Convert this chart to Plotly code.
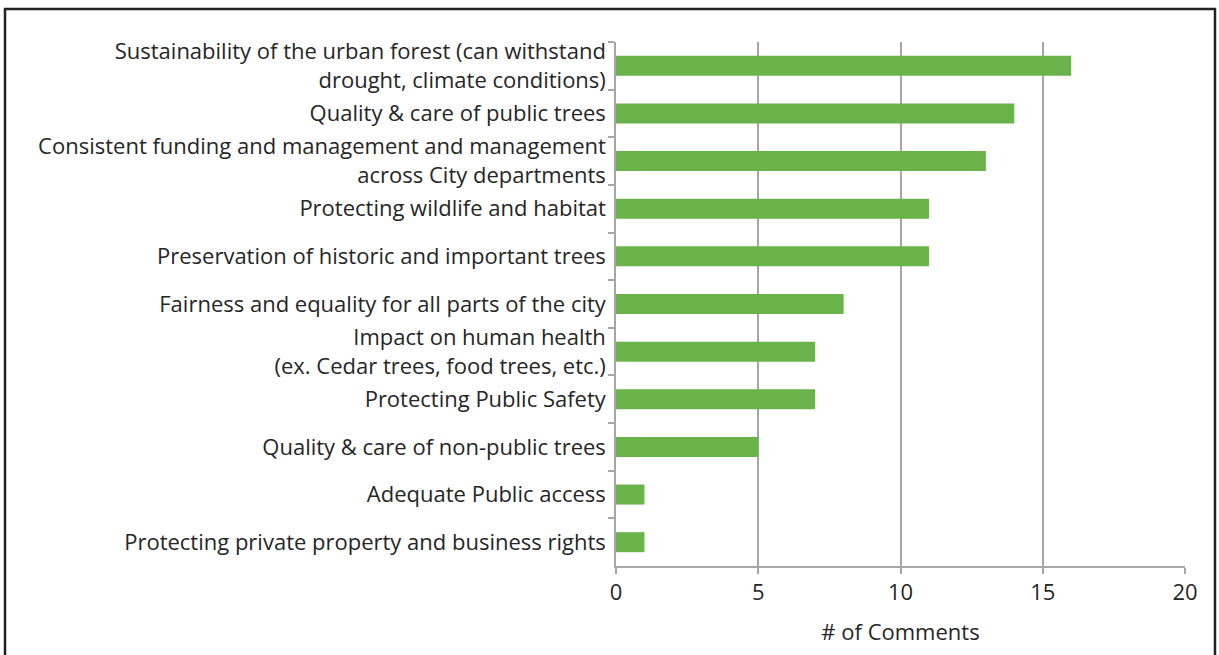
import plotly.graph_objects as go

categories = [
    "Sustainability of the urban forest (can withstand<br>drought, climate conditions)",
    "Quality & care of public trees",
    "Consistent funding and management and management<br>across City departments",
    "Protecting wildlife and habitat",
    "Preservation of historic and important trees",
    "Fairness and equality for all parts of the city",
    "Impact on human health<br>(ex. Cedar trees, food trees, etc.)",
    "Protecting Public Safety",
    "Quality & care of non-public trees",
    "Adequate Public access",
    "Protecting private property and business rights",
]
values = [16, 14, 13, 11, 11, 8, 7, 7, 5, 1, 1]
x_ticks = [0, 5, 10, 15, 20]

fig = go.Figure(go.Bar(
    x=values, y=categories, orientation="h",
    marker=dict(color="#6AB24A", line=dict(width=0)),
    width=0.42,
))

FONT = "Open Sans"
TXT = "#262626"
fig.update_layout(
    width=1219, height=655,
    margin=dict(l=616, r=34, t=42, b=89),
    paper_bgcolor="white", plot_bgcolor="white",
    showlegend=False,
    font=dict(family=FONT, color=TXT),
)
fig.update_xaxes(
    range=[0, 20], tickvals=x_ticks, ticktext=[str(v) for v in x_ticks],
    showgrid=True, gridcolor="#A6A6A6", gridwidth=1.5,
    showline=True, linecolor="#A6A6A6", linewidth=1.5,
    ticks="outside", ticklen=6, tickcolor="#A6A6A6", tickwidth=1.5,
    tickfont=dict(size=22, family=FONT, color=TXT),
    title=dict(text="# of Comments", font=dict(size=22, family=FONT, color=TXT), standoff=19),
    zeroline=False,
)
fig.update_yaxes(
    categoryorder="array", categoryarray=categories,
    range=[len(categories) - 0.5, -0.5], autorange=False,
    showline=True, linecolor="#A6A6A6", linewidth=1.5,
    ticks="outside", ticklen=6, tickcolor="#A6A6A6", tickwidth=1.5,
    tickson="boundaries", ticklabelstandoff=4,
    tickfont=dict(size=22, family=FONT, color=TXT),
    showgrid=False,
)
fig.add_shape(type="rect", xref="paper", yref="paper",
              x0=-1.0738, x1=1.0527, y0=-0.2, y1=1.063,
              line=dict(color="#222222", width=2.5), fillcolor="rgba(0,0,0,0)", layer="above")
fig.write_html("out.html", config={"displayModeBar": False},
               post_script="document.body.style.margin='0';document.body.style.overflow='hidden';")
